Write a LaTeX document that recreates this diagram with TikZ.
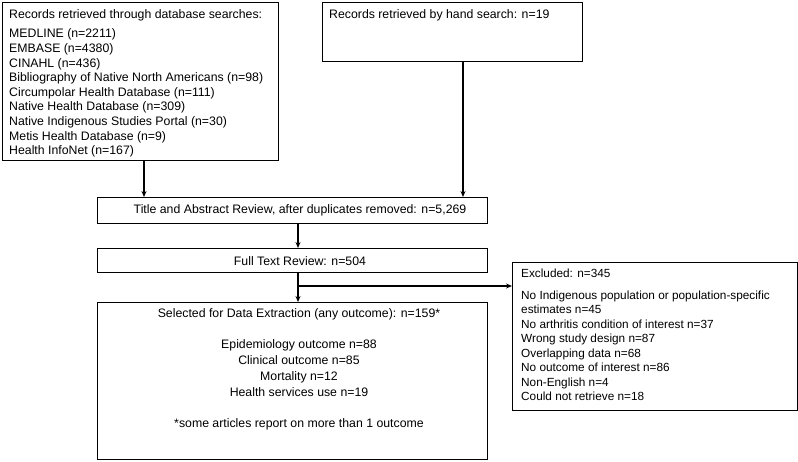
\documentclass[tikz,border=0pt]{standalone}
\usepackage{fontspec}
\setmainfont{Liberation Sans}
\usetikzlibrary{arrows.meta}
\begin{document}
\begin{tikzpicture}[x=1pt,y=-1pt,
  box/.style={draw, line width=1.1pt, rectangle, anchor=north west, inner sep=0pt},
  txt/.style={inner sep=0pt, font=\fontsize{12.3}{14}\selectfont},
  txts/.style={inner sep=0pt, font=\fontsize{11.8}{14}\selectfont},
  arr/.style={line width=1.1pt, -{Stealth[length=6pt,width=5pt]}}]
\useasboundingbox (0,0) rectangle (798,461);
% boxes
\node[box, minimum width=276pt, minimum height=158pt] (b1) at (2,2) {};
\node[box, minimum width=260pt, minimum height=59pt] (b2) at (322,2) {};
\node[box, minimum width=390pt, minimum height=26pt] (b3) at (97,197) {};
\node[box, minimum width=390pt, minimum height=24pt] (b4) at (97,248) {};
\node[box, minimum width=390pt, minimum height=157pt] (b5) at (97,302) {};
\node[box, minimum width=285pt, minimum height=148pt] (b6) at (512,262) {};
% box 1 text
\node[txt, anchor=base west] (t1) at (9,18) {Records retrieved through database searches:};
\foreach \t [count=\i] in {MEDLINE (n=2211), EMBASE (n=4380), CINAHL (n=436),
  Bibliography of Native North Americans (n=98), Circumpolar Health Database (n=111),
  Native Health Database (n=309), Native Indigenous Studies Portal (n=30),
  Metis Health Database (n=9), Health InfoNet (n=167)}
  \node[txt, anchor=base west] (d\i) at (9,{37.7+14.65*(\i-1)}) {\t};
% box 2 text
\node[txt, anchor=base west] (t2) at (329,18) {Records retrieved by hand search: n=19};
% box 3, 4
\node[txt, anchor=base] (t3) at (300,213) {Title and Abstract Review, after duplicates removed: n=5,269};
\node[txt, anchor=base] (t4) at (300,265) {Full Text Review: n=504};
% box 5
\node[txt, anchor=base] (t5) at (299,317) {Selected for Data Extraction (any outcome): n=159*};
\node[txt, anchor=base] (s1) at (299,348) {Epidemiology outcome n=88};
\node[txt, anchor=base] (s2) at (299,364) {Clinical outcome n=85};
\node[txt, anchor=base] (s3) at (299,380.5) {Mortality n=12};
\node[txt, anchor=base] (s4) at (299,396) {Health services use n=19};
\node[txt, anchor=base] (s5) at (299,427) {*some articles report on more than 1 outcome};
% box 6
\node[txts, anchor=base west] (t6) at (521,277) {Excluded: n=345};
\foreach \t [count=\i] in {No Indigenous population or population-specific,
  estimates n=45, No arthritis condition of interest n=37, Wrong study design n=87,
  Overlapping data n=68, No outcome of interest n=86, Non-English n=4, Could not retrieve n=18}
  \node[txts, anchor=base west] (e\i) at (521,{299+14.5*(\i-1)}) {\t};
% connectors
\coordinate (a1) at (144,0);
\coordinate (a2) at (463,0);
\coordinate (a3) at (298,0);
\coordinate (j) at (298,286);
\draw[arr] (b1.south -| a1) -- (b3.north -| a1);
\draw[arr] (b2.south -| a2) -- (b3.north -| a2);
\draw[arr] (b3.south -| a3) -- (b4.north -| a3);
\draw[arr] (b4.south -| a3) -- (b5.north -| a3);
\draw[arr] (j) -- (j -| b6.west);
\end{tikzpicture}
\end{document}
